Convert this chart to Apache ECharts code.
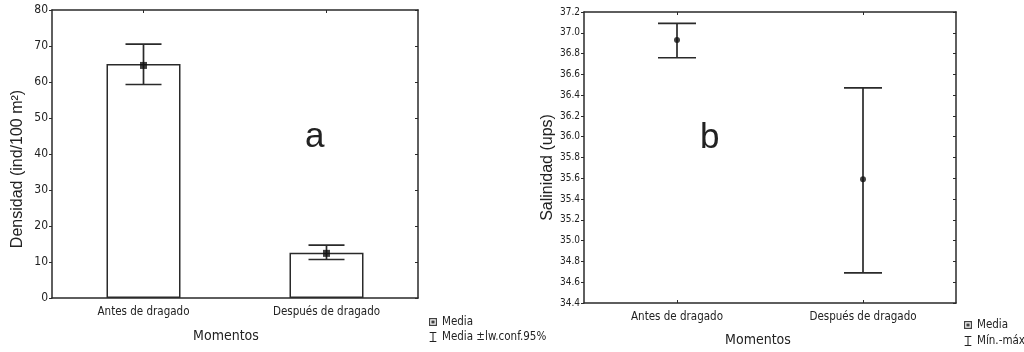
<!DOCTYPE html>
<html><head><meta charset="utf-8">
<script src="https://cdn.jsdelivr.net/npm/echarts@6/dist/echarts.min.js"></script>
<style>html,body{margin:0;padding:0;background:#fff}#c{width:1024px;height:352px}</style>
</head><body><div id="c"></div>
<script>
const categories = ['Antes de dragado', 'Después de dragado'];
// Left panel: density
const densBar = [65.0, 12.6];
const densMean = [64.6, 12.4];
const densLow = [59.3, 10.7];
const densHigh = [70.5, 14.7];
const densTicks = {min: 0, max: 80, interval: 10};
// Right panel: salinity
const salMean = [36.93, 35.59];
const salMin = [36.76, 34.69];
const salMax = [37.09, 36.47];
const salTicks = {min: 34.4, max: 37.2, interval: 0.2};

const FONT = "'Liberation Sans Narrow', 'DejaVu Sans Condensed', 'Liberation Sans', sans-serif";
const SANS = "'Liberation Sans', Arial, sans-serif";
const AX = '#2a2a2a';

function errRender(capHalf) {
  return function (params, api) {
    const hi = api.coord([api.value(0), api.value(1)]);
    const lo = api.coord([api.value(0), api.value(2)]);
    const st = {stroke: '#2a2a2a', lineWidth: 1.7};
    return {type: 'group', children: [
      {type: 'line', shape: {x1: hi[0], y1: hi[1], x2: lo[0], y2: lo[1]}, style: st},
      {type: 'line', shape: {x1: hi[0] - capHalf, y1: hi[1], x2: hi[0] + capHalf, y2: hi[1]}, style: st},
      {type: 'line', shape: {x1: lo[0] - capHalf, y1: lo[1], x2: lo[0] + capHalf, y2: lo[1]}, style: st}
    ]};
  };
}

const boxIcon = 'path://M0,0L10,0L10,10L0,10Z M1.5,1.5L1.5,8.5L8.5,8.5L8.5,1.5Z M3,3L7,3L7,7L3,7Z';
const iIcon = 'path://M0,0H8V1.2H4.6V10.8H8V12H0V10.8H3.4V1.2H0Z';

function catAxis(grid, pos, show) {
  return {
    type: 'category', gridIndex: grid, data: categories, position: pos,
    axisLine: {show: true, onZero: false, lineStyle: {color: AX, width: 1.5}},
    axisTick: {show: true, alignWithLabel: true, inside: true, length: 3, lineStyle: {color: AX}},
    axisLabel: {show: show, color: '#222', fontFamily: FONT, fontSize: 11.5, margin: 8},
    splitLine: {show: false}
  };
}
function valAxis(grid, t, pos, show, fmt, fs) {
  return {
    type: 'value', gridIndex: grid, position: pos, min: t.min, max: t.max, interval: t.interval,
    axisLine: {show: true, onZero: false, lineStyle: {color: AX, width: 1.5}},
    axisTick: {show: true, inside: !show, length: 3, lineStyle: {color: AX}},
    axisLabel: {show: show, color: '#222', fontFamily: FONT, fontSize: fs, margin: 4, formatter: fmt},
    splitLine: {show: false}
  };
}

const chart = echarts.init(document.getElementById('c'));
const xa0 = catAxis(0, 'bottom', true);
xa0.name = 'Momentos'; xa0.nameLocation = 'middle'; xa0.nameGap = 31;
xa0.nameTextStyle = {fontFamily: FONT, fontSize: 14, color: '#222', padding: [0, 18, 0, 0]};
const xa2 = catAxis(1, 'bottom', true);
xa2.name = 'Momentos'; xa2.nameLocation = 'middle'; xa2.nameGap = 30;
xa2.nameTextStyle = {fontFamily: FONT, fontSize: 14, color: '#222', padding: [0, 24, 0, 0]};
const ya0 = valAxis(0, densTicks, 'left', true, v => String(v), 12);
ya0.name = 'Densidad (ind/100 m²)'; ya0.nameLocation = 'middle'; ya0.nameGap = 26;
ya0.nameTextStyle = {fontFamily: SANS, fontSize: 16, color: '#222', padding: [0, 30, 0, 0]};
const ya2 = valAxis(1, salTicks, 'left', true, v => v.toFixed(1), 10);
ya2.name = 'Salinidad (ups)'; ya2.nameLocation = 'middle'; ya2.nameGap = 26;
ya2.nameTextStyle = {fontFamily: SANS, fontSize: 16, color: '#222', padding: [0, 20, 0, 0]};

chart.setOption({
  animation: false,
  backgroundColor: '#fff',
  grid: [
    {left: 52, top: 10, width: 366, height: 288, show: false},
    {left: 584, top: 12, width: 372, height: 291, show: false}
  ],
  xAxis: [xa0, catAxis(0, 'top', false), xa2, catAxis(1, 'top', false)],
  yAxis: [ya0, valAxis(0, densTicks, 'right', false), ya2, valAxis(1, salTicks, 'right', false)],
  legend: [
    {left: 429, top: 316, orient: 'vertical', padding: 0, itemWidth: 8, itemHeight: 10, itemGap: 3,
     textStyle: {fontFamily: FONT, fontSize: 11.5, color: '#222'},
     data: [{name: 'Media', icon: boxIcon}, {name: 'Media ±lw.conf.95%', icon: iIcon}]},
    {left: 964, top: 319, orient: 'vertical', padding: 0, itemWidth: 8, itemHeight: 10, itemGap: 4,
     textStyle: {fontFamily: FONT, fontSize: 11.5, color: '#222'},
     data: [{name: 'Media ', icon: boxIcon}, {name: 'Mín.-máx', icon: iIcon}]}
  ],
  graphic: [
    {type: 'text', left: 305, top: 120, style: {text: 'a', fontFamily: SANS, fontSize: 35, fill: '#222'}},
    {type: 'text', left: 700, top: 121, style: {text: 'b', fontFamily: SANS, fontSize: 35, fill: '#222'}}
  ],
  series: [
    {type: 'bar', name: 'bar', xAxisIndex: 0, yAxisIndex: 0, data: densBar, barWidth: 74,
     itemStyle: {color: '#fff', borderColor: '#2a2a2a', borderWidth: 1.5}, silent: true},
    {type: 'custom', name: 'Media ±lw.conf.95%', xAxisIndex: 0, yAxisIndex: 0,
     itemStyle: {color: '#222'}, renderItem: errRender(18), z: 3,
     data: categories.map((c, i) => [i, densHigh[i], densLow[i]])},
    {type: 'scatter', name: 'Media', xAxisIndex: 0, yAxisIndex: 0, symbol: 'rect', symbolSize: 7,
     itemStyle: {color: '#111'}, z: 4, data: categories.map((c, i) => [i, densMean[i]])},
    {type: 'custom', name: 'Mín.-máx', xAxisIndex: 2, yAxisIndex: 2,
     itemStyle: {color: '#222'}, renderItem: errRender(19), z: 3,
     data: categories.map((c, i) => [i, salMax[i], salMin[i]])},
    {type: 'scatter', name: 'Media ', xAxisIndex: 2, yAxisIndex: 2, symbol: 'circle', symbolSize: 6,
     itemStyle: {color: '#111'}, z: 4, data: categories.map((c, i) => [i, salMean[i]])}
  ]
});
</script></body></html>
